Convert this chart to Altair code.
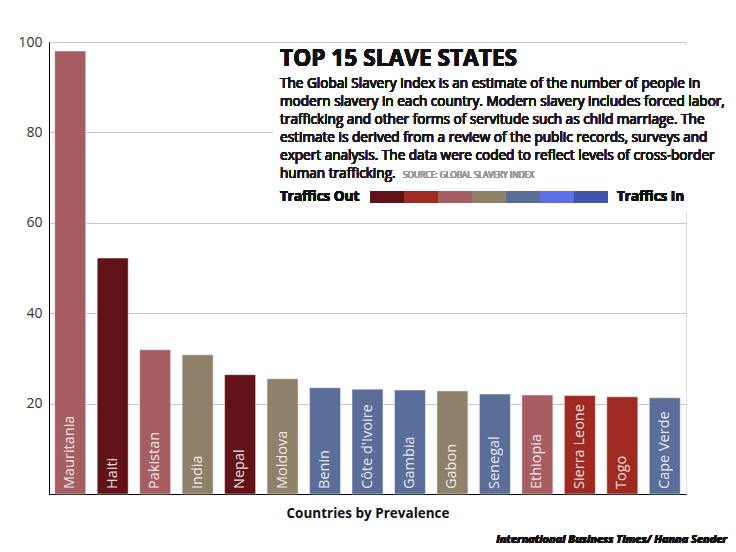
import altair as alt
import pandas as pd

countries = ["Mauritania", "Haiti", "Pakistan", "India", "Nepal", "Moldova", "Benin",
             "Côte d'Ivoire", "Gambia", "Gabon", "Senegal", "Ethiopia", "Sierra Leone",
             "Togo", "Cape Verde"]
prevalence = [98.0, 52.2, 31.9, 30.8, 26.4, 25.5, 23.5, 23.2, 23.0, 22.8, 22.1, 21.9, 21.8, 21.5, 21.3]
# trafficking level: 1 = traffics out ... 7 = traffics in
levels = [3, 1, 3, 4, 1, 4, 5, 5, 5, 4, 5, 3, 2, 2, 5]
level_colors = ["#601218", "#9e2a22", "#a65e62", "#8f806a", "#5b6e99", "#5b70e6", "#4253ab"]
level_ids = [1, 2, 3, 4, 5, 6, 7]

title_text = "TOP 15 SLAVE STATES"
body_lines = [
    "The Global Slavery Index is an estimate of the number of people in",
    "modern slavery in each country.  Modern slavery includes forced labor,",
    "trafficking and other forms of servitude such as child marriage. The",
    "estimate is derived from a review of the public records, surveys and",
    "expert analysis. The data were coded to reflect levels of cross-border",
    "human trafficking.",
]
source_text = "SOURCE: GLOBAL SLAVERY INDEX"
credit_text = "International Business Times/ Hanna Sender"

FONT = "Open Sans"

df = pd.DataFrame({"country": countries, "value": prevalence, "level": levels})
leg = pd.DataFrame({"level": level_ids, "start": [i - 1 for i in level_ids], "end": level_ids})

color_scale = alt.Scale(domain=level_ids, range=level_colors)

x_enc = alt.X("country:N", sort=None,
              scale=alt.Scale(paddingInner=0.27, paddingOuter=0.135),
              axis=alt.Axis(title="Countries by Prevalence", labels=False, ticks=False,
                            domainColor="#000", domainWidth=1, titleFont=FONT,
                            titleFontSize=13.5, titleFontWeight="bold", titleColor="#111",
                            titlePadding=12, titleBaseline="top"))
y_enc = alt.Y("value:Q", scale=alt.Scale(domain=[0, 100], nice=False),
              axis=alt.Axis(title=None, values=[20, 40, 60, 80, 100], ticks=False,
                            labelPadding=7, labelFont=FONT, labelFontSize=14,
                            labelColor="#333", domainColor="#000", domainWidth=1,
                            gridColor="#c8c8c8", gridWidth=1))

bars = alt.Chart(df).mark_bar(stroke="white", strokeOpacity=0.45, strokeWidth=1).encode(
    x=x_enc, y=y_enc,
    color=alt.Color("level:O", scale=color_scale, legend=None),
)
labels = alt.Chart(df).mark_text(angle=270, align="left", baseline="middle", dx=5,
                                 font=FONT, fontSize=14.5, color="white", opacity=0.85).encode(
    x=alt.X("country:N", sort=None), y=alt.datum(0), text="country:N")

base = alt.layer(bars, labels)

cover = alt.Chart(df).mark_rect(color="white").encode(
    x=alt.value(224), x2=alt.value(640), y=alt.value(3), y2=alt.value(170))

title = alt.Chart(df).mark_text(text=title_text, align="left", baseline="alphabetic",
                                font=FONT, fontSize=22.7, fontWeight="bold", color="#111").encode(
    x=alt.value(231), y=alt.value(24))

body = alt.Chart(df).mark_text(text=body_lines, align="left", baseline="alphabetic",
                               lineHeight=18, font=FONT, fontSize=13.6, fontWeight=400,
                               color="#1a1a1a").encode(
    x=alt.value(231), y=alt.value(46))

source = alt.Chart(df).mark_text(text=source_text, align="left", baseline="alphabetic",
                                 font=FONT, fontSize=8.4, color="#999").encode(
    x=alt.value(354), y=alt.value(136))

out_txt = alt.Chart(df).mark_text(text="Traffics Out", align="left", baseline="middle",
                                  font=FONT, fontSize=13.5, fontWeight="bold", color="#111").encode(
    x=alt.value(231), y=alt.value(155))
in_txt = alt.Chart(df).mark_text(text="Traffics In", align="left", baseline="middle",
                                 font=FONT, fontSize=13.5, fontWeight="bold", color="#111").encode(
    x=alt.value(568), y=alt.value(155))

legend_bar = alt.Chart(leg).mark_rect().encode(
    x=alt.X("start:Q", scale=alt.Scale(domain=[0, 7], range=[321, 559]), axis=None),
    x2="end:Q",
    y=alt.value(149), y2=alt.value(161),
    color=alt.Color("level:O", scale=color_scale, legend=None),
)

credit = alt.Chart(df).mark_text(text=credit_text, align="right", baseline="alphabetic",
                                 font=FONT, fontSize=11, fontWeight="bold", fontStyle="italic",
                                 color="#111").encode(
    x=alt.value(678), y=alt.value(501))

chart = alt.layer(base, cover, title, body, source, out_txt, in_txt, legend_bar, credit).resolve_scale(
    x="independent"
).properties(
    width=637, height=452,
    autosize=alt.AutoSizeParams(type="none"),
    padding={"left": 49, "top": 42, "right": 50, "bottom": 58},
).configure_view(stroke=None).configure(background="white")

chart.save("out.html", embed_options={"renderer": "svg", "actions": False})
